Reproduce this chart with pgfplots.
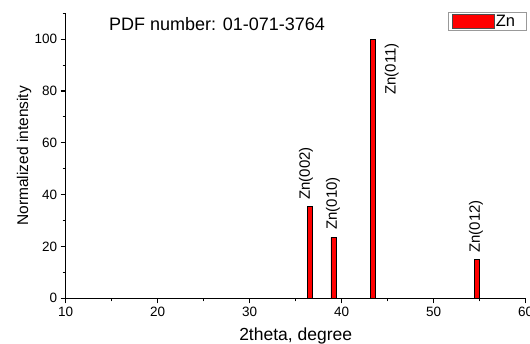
\documentclass[border=0pt]{standalone}
\usepackage{pgfplots}
\pgfplotsset{compat=1.18}
\usepackage{fontspec}
\setmainfont{Liberation Sans}
\newcommand{\tickf}{\fontsize{13.5bp}{16bp}\selectfont}
\newcommand{\xlabf}{\fontsize{17.5bp}{20bp}\selectfont}
\newcommand{\ylabf}{\fontsize{15.5bp}{18bp}\selectfont}
\newcommand{\titf}{\fontsize{18bp}{21bp}\selectfont}
\newcommand{\legf}{\fontsize{16.5bp}{19bp}\selectfont}
\newcommand{\znf}{\fontsize{15bp}{18bp}\selectfont}
\begin{document}
\begin{tikzpicture}
\begin{axis}[
  scale only axis, width=460bp, height=285bp,
  xmin=10, xmax=60, ymin=0, ymax=110,
  axis lines*=left,
  axis line style={line width=1.3pt, black},
  xtick={10,20,30,40,50,60},
  ytick={0,20,40,60,80,100},
  minor xtick={15,25,35,45,55},
  minor ytick={10,30,50,70,90,110},
  tick align=outside,
  major tick length=5bp, minor tick length=3bp,
  tick style={line width=1.1pt, black},
  /pgf/number format/assume math mode=true,
  tick label style={font=\tickf},
  xlabel={2theta, degree}, ylabel={Normalized intensity},
  xlabel style={font=\xlabf, at={(axis description cs:0.5,-0.1488)}, anchor=base},
  ylabel style={font=\ylabf, at={(axis description cs:-0.0902,0.5)}, anchor=center},
  legend style={at={(1.003,1.006)}, anchor=north east, draw=gray!80, line width=0.9pt, font=\legf, inner xsep=3.5bp, inner ysep=1.5bp, nodes={inner sep=1bp}},
  legend image code/.code={\draw[fill=red, draw=black!70, line width=0.6pt] (0bp,-6bp) rectangle (42bp,8bp);},
  clip=false,
]
\addplot[ybar, bar width=5bp, fill=red, draw=black, line width=0.6pt] coordinates {(36.55,35.6) (39.09,23.5) (43.37,100) (54.67,15)};
\addlegendentry{Zn\rule{7bp}{0pt}}
\node[rotate=90, anchor=west, inner sep=0pt, font=\znf] at (axis cs:36.12,38.0) {Zn(002)};
\node[rotate=90, anchor=west, inner sep=0pt, font=\znf] at (axis cs:39.05,26.4) {Zn(010)};
\node[rotate=90, anchor=east, inner sep=0pt, font=\znf] at (axis cs:45.43,98.5) {Zn(011)};
\node[rotate=90, anchor=west, inner sep=0pt, font=\znf] at (axis cs:54.6,17.5) {Zn(012)};
\node[anchor=base west, inner sep=0pt, font=\titf] at (axis cs:14.7,103.2) {PDF number: 01-071-3764};
\end{axis}
\pgfresetboundingbox
\path[use as bounding box] (-65.7bp,-45.7bp) rectangle (464.3bp,298.3bp);
\end{tikzpicture}
\end{document}
